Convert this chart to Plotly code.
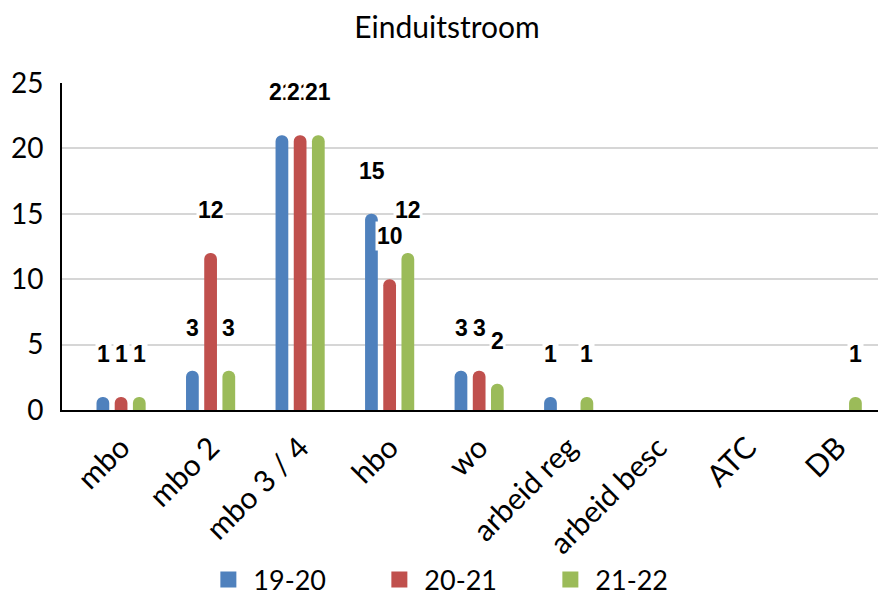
import plotly.graph_objects as go

categories = ["mbo", "mbo 2", "mbo 3 / 4", "hbo", "wo", "arbeid reg", "arbeid besc", "ATC", "DB"]
series_names = ["19-20", "20-21", "21-22"]
v_1920 = [1, 3, 21, 15, 3, 1, 0, 0, 0]
v_2021 = [1, 12, 21, 10, 3, 0, 0, 0, 0]
v_2122 = [1, 3, 21, 12, 2, 1, 0, 0, 1]
colors = ["#4F81BD", "#C0504D", "#9BBB59"]

all_values = [v_1920, v_2021, v_2122]

fig = go.Figure()
for name, vals, col in zip(series_names, all_values, colors):
    fig.add_trace(go.Bar(
        x=categories, y=vals, name=name, showlegend=False,
        marker=dict(color=col, cornerradius=6, line=dict(width=0)),
    ))
# legend-only entries so the swatches can be bigger squares
for name, col in zip(series_names, colors):
    fig.add_trace(go.Scatter(
        x=[None], y=[None], name=name, mode="markers",
        marker=dict(symbol="square", size=30, color=col),
    ))

# value labels above bars, white box behind them (zero values are hidden)
offsets = [-18, 0, 18]
annotations = []
for vals, dx in zip(all_values, offsets):
    for cat, v in zip(categories, vals):
        if v == 0:
            continue
        annotations.append(dict(
            x=cat, y=v, xref="x", yref="y", text=str(v), showarrow=False,
            xshift=dx, yshift=43, bgcolor="white", borderpad=1,
            font=dict(family="Liberation Sans", size=23, color="black", weight="bold"),
        ))

fig.update_layout(
    title=dict(text="Einduitstroom", x=0.4955, xref="container", xanchor="center",
               y=0.968, yanchor="middle",
               font=dict(family="Lato", size=30, color="black")),
    width=886, height=599,
    margin=dict(l=54, r=12, t=75, b=197, autoexpand=False),
    plot_bgcolor="white", paper_bgcolor="white",
    barmode="group", bargap=0.39, bargroupgap=0.3,
    font=dict(family="Lato", color="black"),
    annotations=annotations,
    legend=dict(orientation="h", xref="container", yref="container",
                x=0.51, xanchor="center", y=0.045, yanchor="middle",
                font=dict(size=27), itemwidth=40, itemsizing="trace",
                entrywidth=116, traceorder="normal"),
    showlegend=True,
)
fig.update_yaxes(range=[0, 25], dtick=5, showgrid=True, gridcolor="#D6D6D6", gridwidth=2,
                 showline=True, linecolor="black", linewidth=2, ticks="", automargin=False,
                 tickfont=dict(size=28), zeroline=False, ticklabelstandoff=11)
fig.update_xaxes(range=[-0.66, 8.5], showline=True, linecolor="black", linewidth=2,
                 tickangle=-45, automargin=False,
                 tickfont=dict(size=30), ticks="", ticklabelstandoff=6)

fig.write_html("out.html")
